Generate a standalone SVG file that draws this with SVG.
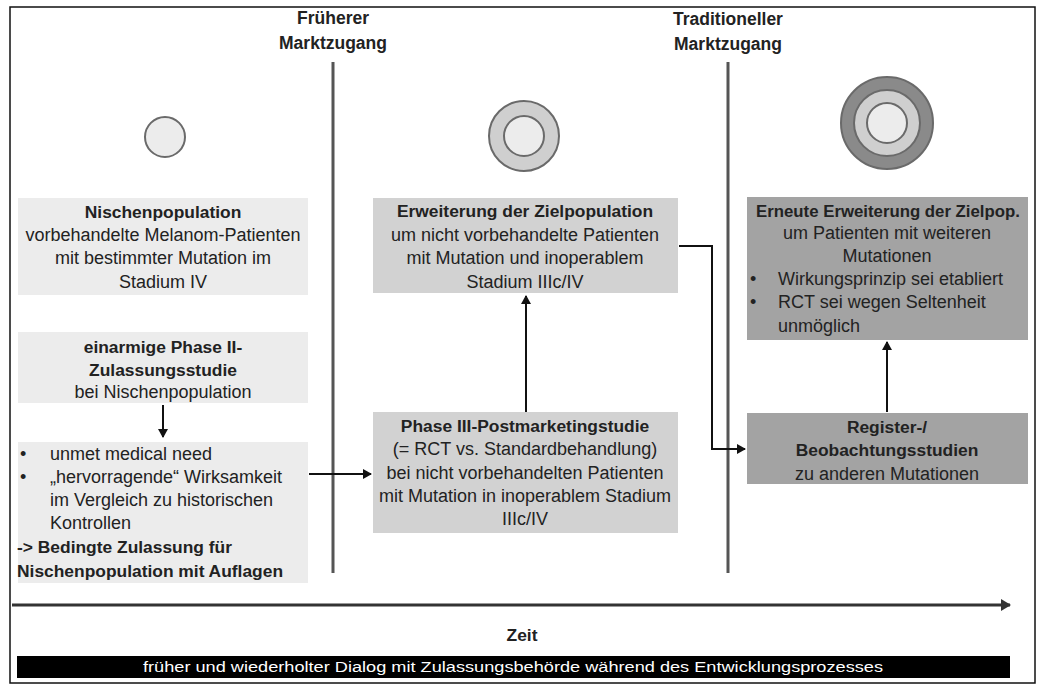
<svg xmlns="http://www.w3.org/2000/svg" width="1038" height="686" viewBox="0 0 1038 686">
<style>
text{font-family:"Liberation Sans",Arial,sans-serif;font-size:18px;fill:#222;}
.c{text-anchor:middle;}
.b{font-weight:bold;font-size:17.4px;}
.hd{font-weight:bold;font-size:17.5px;text-anchor:middle;}
.l1{fill:#ececec;}
.l2{fill:#d2d2d2;}
.l3{fill:#a3a3a3;}
.ring{stroke:#6a6a6a;stroke-width:2;}
.conn{stroke:#111;stroke-width:2;fill:none;}
.vl{stroke:#555;stroke-width:3;}
</style>
<defs>
<marker id="ah" markerWidth="10" markerHeight="10" refX="8" refY="5" orient="auto" markerUnits="userSpaceOnUse">
<path d="M0,0 L9,5 L0,10 z" fill="#111"/>
</marker>
<marker id="ah2" markerWidth="12" markerHeight="12" refX="9" refY="6" orient="auto" markerUnits="userSpaceOnUse">
<path d="M0,0 L10,6 L0,12 z" fill="#333"/>
</marker>
</defs>
<rect x="0" y="0" width="1038" height="686" fill="#fff"/>
<rect x="10" y="7" width="1025" height="676" fill="none" stroke="#111" stroke-width="1.5"/>

<g id="milestones">
<line class="vl" x1="333" y1="62" x2="333" y2="573"/>
<line class="vl" x1="728" y1="62" x2="728" y2="573"/>
<text class="hd" x="333" y="24">Früherer</text>
<text class="hd" x="333" y="49">Marktzugang</text>
<text class="hd" x="728" y="25">Traditioneller</text>
<text class="hd" x="728" y="50">Marktzugang</text>
</g>

<g id="circles">
<circle class="ring" cx="165" cy="137" r="20" fill="#ececec"/>
<circle class="ring" cx="524" cy="136" r="35" fill="#cfcfcf"/>
<circle class="ring" cx="524" cy="136" r="20" fill="#ececec"/>
<circle class="ring" cx="887" cy="123" r="46" fill="#8a8a8a"/>
<circle class="ring" cx="887" cy="123" r="33" fill="#cfcfcf"/>
<circle class="ring" cx="887" cy="123" r="20" fill="#ececec"/>
</g>

<g id="n1">
<rect class="l1" x="18" y="198" width="290" height="97"/>
<text class="c b" x="163" y="218">Nischenpopulation</text>
<text class="c" x="163" y="241">vorbehandelte Melanom-Patienten</text>
<text class="c" x="163" y="264">mit bestimmter Mutation im</text>
<text class="c" x="163" y="288">Stadium IV</text>
</g>

<g id="n2">
<rect class="l1" x="18" y="332" width="290" height="71"/>
<text class="c b" x="163" y="353">einarmige Phase II-</text>
<text class="c b" x="163" y="376">Zulassungsstudie</text>
<text class="c" x="163" y="398">bei Nischenpopulation</text>
</g>

<g id="n3">
<rect class="l1" x="18" y="442" width="290" height="141"/>
<text x="20" y="460">•</text><text x="50" y="460">unmet medical need</text>
<text x="20" y="483">•</text><text x="50" y="483">„hervorragende“ Wirksamkeit</text>
<text x="50" y="506">im Vergleich zu historischen</text>
<text x="50" y="529">Kontrollen</text>
<text class="b" x="17" y="553">-&gt; Bedingte Zulassung für</text>
<text class="b" x="17" y="577">Nischenpopulation mit Auflagen</text>
</g>

<g id="n4">
<rect class="l2" x="373" y="198" width="305" height="95"/>
<text class="c b" x="525" y="217">Erweiterung der Zielpopulation</text>
<text class="c" x="525" y="241">um nicht vorbehandelte Patienten</text>
<text class="c" x="525" y="264">mit Mutation und inoperablem</text>
<text class="c" x="525" y="288">Stadium IIIc/IV</text>
</g>

<g id="n5">
<rect class="l2" x="373" y="412" width="305" height="121"/>
<text class="c b" x="525" y="432">Phase III-Postmarketingstudie</text>
<text class="c" x="525" y="455">(= RCT vs. Standardbehandlung)</text>
<text class="c" x="525" y="479">bei nicht vorbehandelten Patienten</text>
<text class="c" x="525" y="502">mit Mutation in inoperablem Stadium</text>
<text class="c" x="525" y="525">IIIc/IV</text>
</g>

<g id="n6">
<rect class="l3" x="747" y="413" width="281" height="71"/>
<text class="c b" x="887" y="433">Register-/</text>
<text class="c b" x="887" y="456">Beobachtungsstudien</text>
<text class="c" x="887" y="480">zu anderen Mutationen</text>
</g>

<g id="n7">
<rect class="l3" x="747" y="197" width="281" height="143"/>
<text class="c b" x="888" y="217" style="font-size:16.8px">Erneute Erweiterung der Zielpop.</text>
<text class="c" x="887" y="239">um Patienten mit weiteren</text>
<text class="c" x="887" y="262">Mutationen</text>
<text x="750" y="285">•</text><text x="778" y="285">Wirkungsprinzip sei etabliert</text>
<text x="750" y="308">•</text><text x="778" y="308">RCT sei wegen Seltenheit</text>
<text x="778" y="332">unmöglich</text>
</g>

<g id="connectors">
<line class="conn" x1="163" y1="405" x2="163" y2="437" marker-end="url(#ah)"/>
<line class="conn" x1="309" y1="474" x2="371" y2="474" marker-end="url(#ah)"/>
<line class="conn" x1="526" y1="412" x2="526" y2="296" marker-end="url(#ah)"/>
<polyline class="conn" points="679,246 712,246 712,449 745,449" marker-end="url(#ah)"/>
<line class="conn" x1="887" y1="412" x2="887" y2="342" marker-end="url(#ah)"/>
</g>

<g id="timeline">
<line x1="12" y1="605" x2="1010" y2="605" stroke="#333" stroke-width="3" marker-end="url(#ah2)"/>
<text class="c b" x="522" y="641">Zeit</text>
<rect x="17" y="656" width="993" height="22" fill="#000"/>
<text class="c" x="513" y="672" style="fill:#fff;font-size:14px" textLength="740" lengthAdjust="spacingAndGlyphs">früher und wiederholter Dialog mit Zulassungsbehörde während des Entwicklungsprozesses</text>
</g>
</svg>
